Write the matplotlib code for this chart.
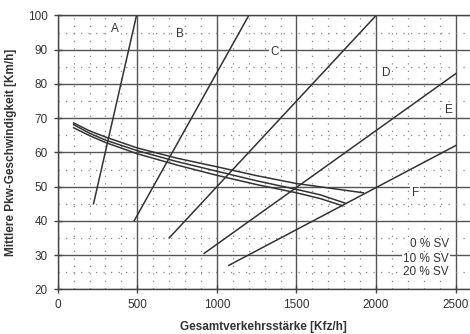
import matplotlib
matplotlib.use("Agg")
import matplotlib.pyplot as plt
from matplotlib.ticker import MultipleLocator

plt.rcParams['font.family'] = ['Liberation Sans', 'DejaVu Sans']

# LOS boundary lines (x: Kfz/h, y: km/h)
boundary_x = [[225, 495], [480, 1200], [700, 2000], [920, 2500], [1075, 2500]]
boundary_y = [[45, 100], [40, 100], [35, 100], [30.5, 83], [27, 62]]

# Speed curves
sv0_x = [100, 200, 300, 500, 750, 1000, 1250, 1500, 1750, 1920]
sv0_y = [68.6, 66.3, 64.5, 61.3, 58.3, 55.8, 53.2, 50.9, 49.3, 48.2]
sv10_x = [100, 200, 300, 500, 750, 1000, 1250, 1500, 1650, 1810]
sv10_y = [68.1, 65.6, 63.6, 60.5, 57.3, 54.5, 51.7, 49.2, 47.6, 45.1]
sv20_x = [100, 200, 300, 500, 750, 1000, 1250, 1500, 1650, 1790]
sv20_y = [67.2, 64.9, 62.9, 59.6, 56.3, 53.3, 50.6, 48.2, 46.5, 44.4]

region_labels = ['A', 'B', 'C', 'D', 'E', 'F']
region_x = [359, 769, 1361, 2065, 2457, 2247]
region_y = [96.1, 94.6, 89.3, 83.3, 72.4, 48.0]

sv_labels = ['0 % SV', '10 % SV', '20 % SV']
sv_label_y = [33.2, 28.9, 25.0]

fig = plt.figure(figsize=(4.70, 3.34), dpi=100)
ax = fig.add_axes([0.1228, 0.1338, 0.8772, 0.8198])

ax.set_xlim(0, 2590)
ax.set_ylim(20, 100)
ax.xaxis.set_major_locator(MultipleLocator(500))
ax.yaxis.set_major_locator(MultipleLocator(10))
ax.xaxis.set_minor_locator(MultipleLocator(100))
ax.yaxis.set_minor_locator(MultipleLocator(5))

ax.grid(which='major', color='#555555', linewidth=1.0, linestyle='-')
ax.grid(which='minor', color='#888888', linewidth=0.9, linestyle=(0, (1, 5)))
ax.set_axisbelow(True)

ax.tick_params(which='major', direction='inout', length=6, width=1.0,
               color='#444444', labelsize=8.5, labelcolor='#333333', pad=4)
ax.tick_params(which='minor', length=0)
for s in ['left', 'bottom', 'top']:
    ax.spines[s].set_color('#444444')
    ax.spines[s].set_linewidth(1.0)
ax.spines['right'].set_visible(False)

lc = '#333333'
for bx, by in zip(boundary_x, boundary_y):
    ax.plot(bx, by, color=lc, linewidth=1.1)

for cx, cy in [(sv0_x, sv0_y), (sv10_x, sv10_y), (sv20_x, sv20_y)]:
    ax.plot(cx, cy, color=lc, linewidth=1.1)

for lab, lx, ly in zip(region_labels, region_x, region_y):
    ax.text(lx, ly, lab, ha='center', va='center', fontsize=8.5, color='#333333',
            bbox=dict(facecolor='white', edgecolor='none', pad=1.0))

for lab, ly in zip(sv_labels, sv_label_y):
    ax.text(2456, ly, lab, ha='right', va='center', fontsize=8.5, color='#333333',
            bbox=dict(facecolor='white', edgecolor='none', pad=0.8))

ax.set_xlabel('Gesamtverkehrsstärke [Kfz/h]', fontsize=8.5, fontweight='bold',
              color='#333333', labelpad=7)
ax.set_ylabel('Mittlere Pkw-Geschwindigkeit [Km/h]', fontsize=8.5, fontweight='bold',
              color='#333333', labelpad=8)

fig.savefig('out.png', dpi=100)
